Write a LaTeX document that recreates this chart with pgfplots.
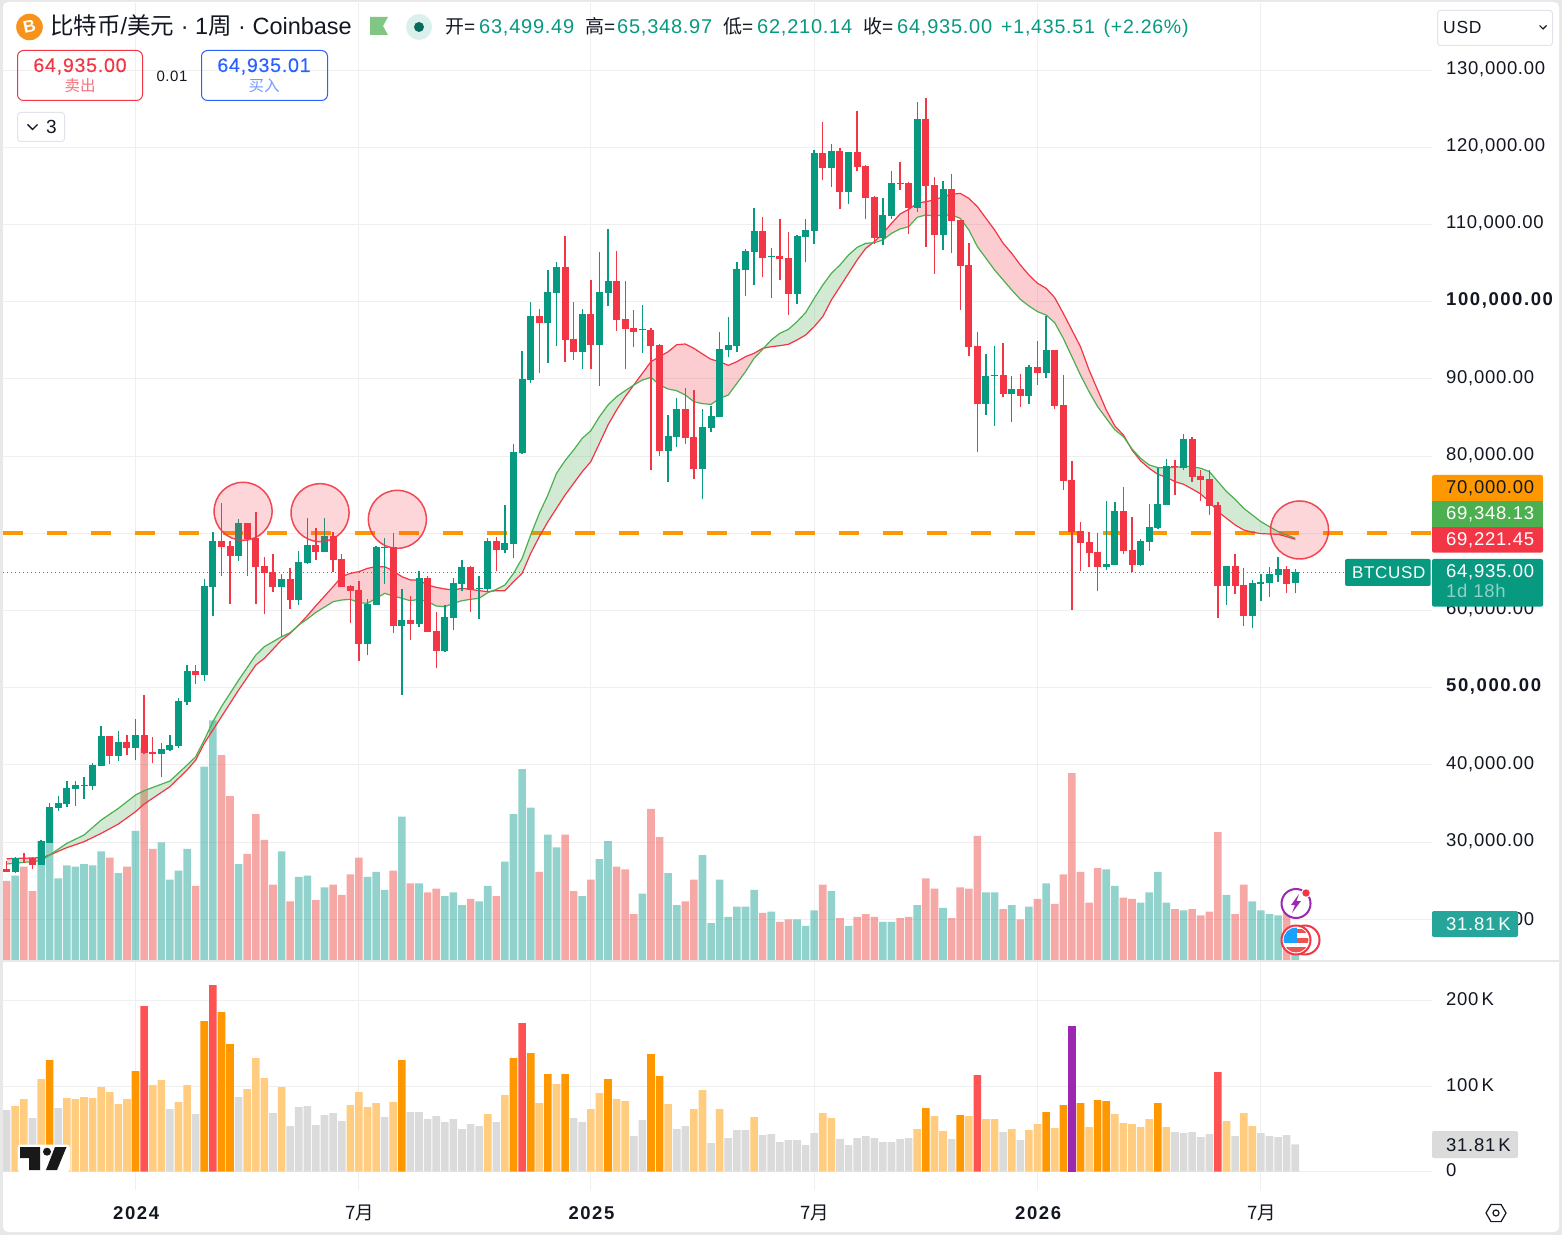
\documentclass[border=0pt]{standalone}
\usepackage{fontspec}
\usepackage{pgfplots}
\usepackage{pgfplotstable}
\pgfplotsset{compat=1.18}
\setmainfont{Liberation Sans}
\newfontfamily\cjk{Noto Sans CJK SC}
\newfontfamily\nf[LetterSpace=3.8]{Liberation Sans}
\newfontfamily\nfb[LetterSpace=8.5]{Liberation Sans}
\newfontfamily\nfm[LetterSpace=3.8,FakeBold=0.3]{Liberation Sans}
\definecolor{up}{HTML}{089981}
\definecolor{dn}{HTML}{F23645}
\definecolor{tealv}{HTML}{26A69A}
\definecolor{redv}{HTML}{EF5350}
\definecolor{gridc}{HTML}{EFEFEF}
\definecolor{inkc}{HTML}{131722}
\definecolor{pagec}{HTML}{E8E8E8}
\definecolor{orng}{HTML}{FF9800}
\definecolor{lorng}{HTML}{FFCC80}
\definecolor{grayv}{HTML}{DBDBDB}
\definecolor{redl}{HTML}{FF5252}
\definecolor{purp}{HTML}{9C27B0}
\definecolor{greenl}{HTML}{4CAF50}
\definecolor{bluec}{HTML}{2962FF}
\definecolor{btc}{HTML}{F7931A}
\definecolor{flagc}{HTML}{81C784}
\definecolor{boxc}{HTML}{E0E3EB}
% weekly candles, prices in thousand USD
\pgfplotstableread{
i o h l c
0 26.5 27.5 26.1 26.1
1 26.1 28.1 26.0 27.9
2 28.0 28.6 27.3 27.8
3 27.9 28.1 26.5 27.0
4 27.0 30.3 27.0 30.1
5 29.9 35.1 29.9 34.5
6 34.4 36.0 34.0 35.1
7 34.9 37.9 34.5 37.0
8 36.9 37.9 34.7 37.4
9 37.3 38.4 35.6 37.4
10 37.3 40.2 36.7 40.0
11 39.9 45.0 39.9 43.7
12 43.7 43.8 40.1 41.2
13 41.2 44.4 40.5 43.0
14 43.0 43.9 41.3 42.2
15 42.2 45.9 40.6 43.9
16 43.9 49.1 41.4 41.5
17 41.7 43.6 40.2 41.4
18 41.4 42.8 38.4 42.1
19 41.9 43.9 41.8 42.6
20 42.4 48.7 42.2 48.3
21 48.1 52.9 47.8 52.2
22 52.2 52.9 50.5 51.6
23 51.6 64.1 50.9 63.2
24 63.0 70.2 59.3 69.0
25 69.0 73.9 64.5 68.2
26 68.4 69.0 60.8 67.1
27 67.1 71.9 66.4 71.3
28 71.3 71.3 64.5 69.2
29 69.4 72.8 60.8 65.6
30 65.8 66.9 59.5 64.9
31 65.0 67.3 62.4 63.0
32 63.0 64.7 56.6 64.1
33 64.1 65.5 60.2 61.4
34 61.4 67.7 60.7 66.3
35 66.1 72.0 66.0 68.5
36 68.5 70.7 66.5 67.6
37 67.6 72.0 67.6 69.7
38 69.7 70.2 65.0 66.5
39 66.7 67.3 63.0 63.0
40 63.2 63.3 58.4 62.5
41 62.7 63.8 53.5 55.7
42 55.7 61.5 54.2 60.8
43 60.7 68.4 60.7 68.2
44 68.1 69.4 63.4 68.2
45 68.2 70.0 57.1 58.0
46 58.0 62.8 49.1 58.8
47 58.8 61.9 56.2 58.2
48 58.2 65.1 57.9 64.2
49 64.2 64.5 57.2 57.2
50 57.3 59.8 52.5 54.8
51 54.8 60.7 54.6 59.2
52 59.0 64.2 57.5 63.6
53 63.4 66.5 62.5 65.6
54 65.6 65.7 59.8 62.7
55 62.8 64.5 58.9 62.9
56 62.8 69.4 62.4 69.0
57 69.0 69.5 65.1 67.8
58 67.8 73.7 67.4 68.7
59 68.6 81.6 66.8 80.5
60 80.4 93.6 80.3 90.0
61 89.9 100.0 89.5 98.1
62 98.1 99.1 90.8 97.2
63 97.2 104.1 92.1 101.3
64 101.1 105.1 94.3 104.5
65 104.5 108.5 92.2 95.0
66 95.2 100.0 92.4 93.5
67 93.5 99.1 91.3 98.4
68 98.4 102.8 91.3 94.4
69 94.4 106.4 89.1 101.3
70 101.1 109.4 99.4 102.7
71 102.7 106.6 96.2 97.6
72 97.8 102.7 91.3 96.5
73 96.6 98.9 94.1 96.1
74 96.3 99.6 93.4 96.5
75 96.3 96.6 78.2 94.3
76 94.4 94.5 80.0 80.7
77 80.7 85.3 76.6 82.6
78 82.5 87.5 81.2 86.1
79 86.1 88.8 81.6 82.3
80 82.5 88.6 77.0 78.3
81 78.3 86.1 74.4 83.8
82 83.6 86.5 83.1 85.2
83 85.1 96.1 85.1 93.9
84 93.7 98.0 92.8 94.4
85 94.3 105.1 93.5 104.2
86 104.1 106.8 100.7 106.6
87 106.4 112.1 102.2 109.2
88 109.2 111.0 103.2 105.7
89 105.8 107.0 100.5 105.9
90 105.9 110.7 102.8 105.5
91 105.7 109.0 98.3 101.0
92 101.0 108.6 99.7 108.5
93 108.4 110.7 105.1 109.3
94 109.2 119.7 107.5 119.3
95 119.3 123.3 115.8 117.3
96 117.3 120.4 114.9 119.5
97 119.5 119.9 112.0 114.2
98 114.2 119.4 112.7 119.4
99 119.4 124.7 116.9 117.5
100 117.6 117.7 110.7 113.4
101 113.6 113.7 107.5 108.3
102 108.3 113.4 107.3 111.2
103 111.1 116.9 110.7 115.4
104 115.4 118.1 114.5 115.2
105 115.4 115.5 108.8 112.1
106 112.1 125.9 111.6 123.7
107 123.7 126.4 107.1 115.0
108 115.1 116.2 103.6 108.6
109 108.6 115.6 106.7 114.6
110 114.6 116.5 106.3 110.5
111 110.6 110.6 98.9 104.6
112 104.8 107.6 93.0 94.1
113 94.3 96.1 80.5 86.8
114 86.8 93.2 85.3 90.4
115 90.4 94.3 83.9 90.5
116 90.5 94.7 87.7 88.0
117 88.0 90.4 84.4 88.7
118 88.7 90.6 86.4 87.8
119 87.8 91.8 86.8 91.5
120 91.5 94.9 89.2 90.8
121 90.8 98.1 90.1 93.7
122 93.7 93.8 86.1 86.5
123 86.6 90.5 75.6 76.8
124 76.9 79.4 60.1 70.2
125 70.3 71.5 65.1 68.7
126 68.9 70.2 65.6 67.4
127 67.6 70.0 62.5 65.6
128 65.6 74.2 65.2 66.0
129 65.9 74.1 65.9 72.9
130 72.9 76.0 67.3 67.7
131 67.8 72.1 65.0 65.9
132 65.9 69.3 65.8 69.0
133 68.9 73.8 67.7 70.8
134 70.7 78.5 70.6 73.8
135 73.7 79.6 73.7 78.7
136 78.7 79.5 75.0 78.6
137 78.5 82.9 78.2 82.2
138 82.2 82.5 76.7 77.3
139 77.4 78.2 74.2 76.9
140 77.0 78.2 72.4 73.5
141 73.7 74.1 59.0 63.2
142 63.2 65.8 60.7 65.8
143 65.8 67.3 62.1 63.2
144 63.3 65.5 58.0 59.3
145 59.3 64.0 57.7 63.6
146 63.4 64.7 61.2 63.7
147 63.6 65.6 61.8 64.7
148 64.6 66.9 63.7 65.4
149 65.4 65.8 62.3 63.4
150 63.50 65.35 62.21 64.94
}\cand
% volume in thousand; d: 1 rising week; lev: relative-volume class
\pgfplotstableread{
i v d lev
0 72.0 0 0
1 76.6 1 1
2 84.8 0 1
3 62.6 0 0
4 108.1 1 1
5 130.3 1 2
6 74.3 1 0
7 86.0 1 1
8 84.8 1 1
9 87.1 1 1
10 86.0 1 1
11 98.8 1 1
12 93.0 0 1
13 79.0 1 1
14 84.8 0 1
15 117.5 1 2
16 193.3 0 3
17 101.1 0 1
18 107.0 1 1
19 73.1 1 0
20 81.3 1 1
21 101.1 1 1
22 67.3 0 0
23 175.8 1 2
24 217.8 1 3
25 186.3 0 2
26 149.0 0 2
27 87.1 1 0
28 96.5 0 1
29 132.6 0 1
30 109.3 0 1
31 68.5 0 0
32 98.8 1 1
33 53.3 0 0
34 75.5 1 0
35 76.6 1 0
36 54.5 0 0
37 66.1 1 0
38 68.5 0 0
39 59.1 0 0
40 77.8 0 1
41 93.0 0 1
42 75.5 1 1
43 80.1 1 1
44 63.8 1 0
45 81.3 0 1
46 130.3 1 2
47 69.6 0 0
48 69.6 1 0
49 61.5 0 0
50 65.0 0 0
51 58.0 1 0
52 61.5 1 0
53 49.8 1 0
54 55.6 0 0
55 53.3 1 0
56 67.3 1 1
57 58.0 0 0
58 89.5 1 1
59 132.6 1 2
60 173.5 1 3
61 138.5 1 2
62 80.1 0 1
63 114.0 1 2
64 102.3 1 1
65 114.0 0 2
66 62.6 0 0
67 58.0 1 0
68 73.1 0 1
69 91.8 1 1
70 108.1 1 2
71 84.8 0 1
72 82.5 0 1
73 41.6 0 0
74 60.3 1 0
75 137.3 0 2
76 111.6 0 2
77 79.0 1 1
78 49.8 1 0
79 53.3 0 0
80 73.1 0 1
81 95.3 1 1
82 33.5 1 0
83 73.1 1 1
84 39.3 1 0
85 48.6 1 0
86 48.6 1 0
87 63.8 1 1
88 42.8 0 0
89 44.0 1 0
90 34.6 0 0
91 37.0 0 0
92 37.0 1 0
93 31.1 1 0
94 45.1 1 0
95 68.5 0 1
96 62.6 1 1
97 38.1 0 0
98 31.1 1 0
99 39.3 0 0
100 41.6 0 0
101 39.3 0 0
102 34.6 1 0
103 34.6 1 0
104 38.1 0 0
105 39.3 0 0
106 49.8 1 1
107 74.3 0 2
108 65.0 0 1
109 47.5 1 1
110 38.1 0 0
111 66.1 0 2
112 65.0 0 1
113 112.8 0 3
114 61.5 1 1
115 61.5 1 1
116 46.3 0 0
117 49.8 1 1
118 37.0 0 0
119 48.6 1 1
120 55.6 0 1
121 69.6 1 2
122 51.0 0 1
123 77.8 0 2
124 170.0 0 4
125 80.1 0 2
126 52.1 0 1
127 83.6 0 2
128 82.5 1 2
129 67.3 1 1
130 56.8 0 1
131 55.6 0 1
132 52.1 1 1
133 61.5 1 1
134 80.1 1 2
135 52.1 1 1
136 46.3 0 0
137 45.1 1 0
138 46.3 0 0
139 40.5 0 0
140 44.0 0 0
141 116.3 0 3
142 59.1 1 1
143 41.6 0 0
144 68.5 0 1
145 53.3 1 1
146 45.1 1 0
147 41.6 1 0
148 40.5 1 0
149 42.8 0 0
150 31.81 1 0
}\volt
% the two moving averages (r: red, g: green), prices in thousand USD
\pgfplotstableread{
i r g
0 27.85 27.16
4 27.98 27.59
5 28.33 28.33
7 29.28 29.84
9 30.05 30.92
11 31.13 32.86
13 32.34 34.37
15 33.94 36.10
16 34.93 36.66
19 37.18 37.91
21 39.34 39.98
22 40.63 41.06
23 42.79 43.22
24 44.52 45.60
25 46.24 47.54
27 49.70 50.99
29 52.94 54.23
30 53.80 55.32
32 56.18 56.61
33 57.04 57.13
34 58.12 58.12
35 59.33 58.90
36 60.63 59.76
38 63.09 61.14
39 64.38 61.36
40 64.81 61.45
41 65.03 61.02
42 65.46 60.93
43 65.68 61.58
44 65.68 62.22
45 65.12 61.88
46 64.38 61.58
47 63.95 61.27
48 63.95 61.45
49 63.30 61.14
50 63.00 60.58
51 62.79 60.50
52 62.66 60.93
53 62.87 61.27
54 62.74 61.45
55 62.57 61.58
56 62.44 62.31
57 62.57 62.74
58 62.57 63.30
59 63.73 64.81
60 64.81 66.75
61 67.40 69.78
62 69.56 72.58
63 71.50 74.96
64 73.23 77.76
65 74.96 79.41
66 76.47 80.79
67 77.98 82.30
68 79.28 83.29
69 81.65 85.10
70 84.03 86.62
71 85.97 87.70
72 87.70 88.47
73 89.21 89.21
74 90.72 89.85
75 92.23 90.20
76 92.88 89.21
77 93.52 88.69
78 94.43 88.47
79 94.52 87.91
80 93.96 87.05
81 93.22 86.79
82 92.53 86.70
83 92.23 87.48
84 91.75 87.91
85 92.23 89.42
86 92.88 90.93
87 93.31 92.66
88 93.96 93.83
89 94.17 95.04
90 94.30 95.90
91 94.48 96.42
92 95.04 97.41
93 95.68 98.58
94 96.76 100.43
95 98.06 102.16
96 100.22 103.67
97 101.94 104.75
98 103.67 106.05
99 105.40 107.04
100 106.91 107.56
101 107.77 107.64
102 108.85 107.99
103 110.15 108.85
104 111.36 109.42
105 111.96 109.72
106 112.74 110.93
107 112.96 111.23
108 113.17 111.10
109 113.60 111.23
110 113.91 111.23
111 114.03 110.80
112 113.39 109.29
113 112.31 107.13
114 110.80 105.62
115 109.29 104.10
116 107.56 102.81
117 106.26 101.51
118 104.75 100.30
119 103.45 99.44
120 102.38 98.71
121 101.73 98.27
122 100.52 97.28
123 98.49 95.25
124 96.33 92.88
125 94.17 90.50
126 91.15 88.34
127 88.56 86.40
128 85.97 84.89
129 83.90 83.40
130 82.74 82.52
131 80.79 80.92
132 79.37 79.71
133 78.42 78.85
134 77.64 78.51
135 77.25 78.46
136 76.69 78.55
137 76.35 78.64
138 75.74 78.64
139 75.09 78.42
140 74.10 77.99
141 72.81 76.69
142 71.94 75.40
143 71.08 74.40
144 70.43 73.24
145 70.13 72.37
146 69.96 71.51
147 69.91 70.86
148 69.87 70.22
149 69.57 69.78
150 69.22 69.35
}\band
\pgfplotsset{
 pane/.style={scale only axis,xmin=-0.43,xmax=165.92,anchor=south west,
   axis line style={draw=none},tick style={draw=none},major tick length=0pt},
 upper/.style={pane,at={(3pt,275pt)},width=1429pt,height=957pt},
 lab/.style={anchor=west,inner sep=0pt,text height=13.3pt,text depth=0pt,text=inkc,
   font=\nf\fontsize{18.5}{18.5}\selectfont},
}
\newcommand{\candles}[2]{%
 \addplot[draw=none,mark=none,forget plot,restrict expr to domain={\thisrow{c}-\thisrow{o}}{#2},
   error bars/.cd,y dir=plus,y explicit,error mark=none,error bar style={line width=1.4pt,draw=#1}]
   table[x=i,y=l,y error plus expr=\thisrow{h}-\thisrow{l}]{\cand};
 \addplot[draw=none,mark=none,forget plot,restrict expr to domain={\thisrow{c}-\thisrow{o}}{#2},
   error bars/.cd,y dir=plus,y explicit,error mark=none,error bar style={line width=7pt,draw=#1}]
   table[x=i,y expr={min(\thisrow{o},\thisrow{c})},y error plus expr={abs(\thisrow{c}-\thisrow{o})}]{\cand};
}
\newcommand{\vbars}[3]{% colour, opacity, filter
 \addplot[ybar,bar shift=0pt,bar width=7.6pt,draw=none,fill=#1,fill opacity=#2,forget plot,#3] table[x=i,y=v]{\volt};
}
\newcommand{\T}[5][base west]{\node[anchor=#1,inner sep=0pt,text=#3,font=\fontsize{#4}{#4}\selectfont] at (#2) {#5};}
\newcommand{\bnum}[1]{{\nfb\bfseries #1}}
\begin{document}
\begin{tikzpicture}
\path (0,0) rectangle (1562pt,1235pt);
\fill[pagec] (0,0) rectangle (1562pt,1235pt);
\fill[white,rounded corners=5pt] (3pt,3pt) rectangle (1559pt,1233pt);
% price grid, labels and the two horizontal lines
\begin{axis}[upper,ymin=14.73,ymax=138.69,ytick={20,30,40,50,60,70,80,90,100,110,120,130},
  yticklabels={{\raisebox{-2pt}{20,000.00}},{30,000.00},{40,000.00},{\bnum{50,000.00}},{60,000.00},{70,000.00},{80,000.00},{90,000.00},{\bnum{100,000.00}},{110,000.00},{120,000.00},{130,000.00}},
  xtick={15,41,68,94,120,146},xticklabels={},grid=major,grid style={draw=gridc,line width=1pt},
  yticklabel pos=right,yticklabel style={lab,xshift=14pt,yshift=2.5pt}]
 \addplot[orng,line width=4pt,dash pattern=on 20pt off 24pt,forget plot] coordinates {(-0.43,70)(165.92,70)};
 \addplot[up,line width=1pt,dash pattern=on 1pt off 3pt,forget plot] coordinates {(-0.43,64.935)(155.9,64.935)};
\end{axis}
% volume in the price pane
\begin{axis}[upper,hide axis,ymin=0,ymax=870]
 \vbars{tealv}{0.5}{restrict expr to domain={\thisrow{d}}{1:1}}
 \vbars{redv}{0.5}{restrict expr to domain={\thisrow{d}}{0:0}}
\end{axis}
% band between the averages: a stack of the lower line and the two gaps
\begin{axis}[upper,hide axis,ymin=14.73,ymax=138.69,stack plots=y]
 \addplot[draw=none,forget plot] table[x=i,y expr={min(\thisrow{r},\thisrow{g})}]{\band};
 \addplot[draw=none,fill=dn,fill opacity=.25,forget plot] table[x=i,y expr={max(\thisrow{r}-\thisrow{g},0)}]{\band} \closedcycle;
 \addplot[draw=none,fill=greenl,fill opacity=.25,forget plot] table[x=i,y expr={max(\thisrow{g}-\thisrow{r},0)}]{\band} \closedcycle;
\end{axis}
% price
\begin{axis}[upper,hide axis,ymin=14.73,ymax=138.69]
 \addplot[dn,line width=1.2pt,forget plot] table[x=i,y=r]{\band};
 \addplot[greenl,line width=1.2pt,forget plot] table[x=i,y=g]{\band};
 \candles{up}{0:1000}
 \candles{dn}{-1000:-0.0001}
 \addplot[only marks,forget plot,mark=*,mark size=29pt,mark options={draw=dn,line width=1.5pt,fill=dn,fill opacity=.2,draw opacity=.9}]
   coordinates {(27.52,72.85)(36.48,72.67)(45.48,71.81)(150.5,70.43)};
\end{axis}
% relative-volume pane
\begin{axis}[pane,at={(3pt,45pt)},width=1429pt,height=228pt,ymin=-21.35,ymax=244.7,
  ytick={0,100,200},
  yticklabels={{0},{100\,K},{200\,K}},
  xtick={15,41,68,94,120,146},
  xticklabels={\bnum{2024},{\cjk 7月},\bnum{2025},{\cjk 7月},\bnum{2026},{\cjk 7月}},
  grid=major,grid style={draw=gridc,line width=1pt},
  yticklabel pos=right,yticklabel style={lab,xshift=14pt,yshift=1.5pt},
  xticklabel style={anchor=center,inner sep=0pt,xshift=0.6pt,yshift=-23pt,text=inkc,font=\nf\fontsize{18.5}{18.5}\selectfont}]
 \vbars{grayv}{1}{restrict expr to domain={\thisrow{lev}}{0:0}}
 \vbars{lorng}{1}{restrict expr to domain={\thisrow{lev}}{1:1}}
 \vbars{orng}{1}{restrict expr to domain={\thisrow{lev}}{2:2}}
 \vbars{redl}{1}{restrict expr to domain={\thisrow{lev}}{3:3}}
 \vbars{purp}{1}{restrict expr to domain={\thisrow{lev}}{4:4}}
\end{axis}
% interface furniture, drawn in the reference's pixel coordinates
\begin{scope}[x=1pt,y=-1pt,yshift=1235pt]
 \fill[pagec] (3,960) rectangle (1559,962);
 % header
 \fill[btc] (29.5,27) circle[radius=13.3pt];
 \node[text=white,rotate=12,inner sep=0pt,font=\bfseries\fontsize{17}{17}\selectfont] at (29.5,27) {B};
 \T{50,35}{inkc}{23.5}{{\cjk 比特币}/{\cjk 美元} · 1{\cjk 周} · Coinbase}
 \fill[flagc] (370,17)--(388,17)--(383,26)--(388,35)--(370,35)--cycle;
 \fill[up!15] (419,27) circle[radius=13pt];
 \fill[up!70!black] (419,27) circle[radius=5pt];
 \T{445,34}{inkc}{19}{{\cjk 开}=}
 \T{479,34}{up}{20}{\nf 63,499.49}
 \T{585,34}{inkc}{19}{{\cjk 高}=}
 \T{617,34}{up}{20}{\nf 65,348.97}
 \T{723,34}{inkc}{19}{{\cjk 低}=}
 \T{757,34}{up}{20}{\nf 62,210.14}
 \T{863,34}{inkc}{19}{{\cjk 收}=}
 \T{897,34}{up}{20}{\nf 64,935.00}
 \T{1001,34}{up}{19.6}{\nf +1,435.51}
 \T{1103.5,34}{up}{19.5}{\nf (+2.26\%)}
 % buy and sell
 \draw[dn,line width=1pt,rounded corners=6pt] (17.5,50.5) rectangle (142.5,100.5);
 \draw[bluec,line width=1pt,rounded corners=6pt] (201.5,50.5) rectangle (327.5,100.5);
 \T[base]{80,72}{dn}{19.6}{\nfm 64,935.00}
 \T[base]{80,92}{dn!70}{15.5}{\cjk 卖出}
 \T[base]{264,72}{bluec}{19.6}{\nfm 64,935.01}
 \T[base]{264,92}{bluec!65}{15.5}{\cjk 买入}
 \T[base]{172,81.5}{inkc}{15}{\nf 0.01}
 \draw[boxc,line width=1pt,rounded corners=3pt] (17.5,112.5) rectangle (64.5,141.5);
 \draw[inkc,line width=1.4pt] (27.5,124.5)--(32.5,129.5)--(37.5,124.5);
 \T{46,134}{inkc}{19}{\nf 3}
 % currency selector
 \draw[boxc,line width=1pt,rounded corners=3pt] (1437.5,10.5) rectangle (1552.5,45.5);
 \T{1443,33.5}{inkc}{17.5}{\nf USD}
 \draw[inkc,line width=1.1pt] (1539.5,25.5)--(1543,29)--(1546.5,25.5);
 % price tags
 \fill[orng,rounded corners=2pt] (1432,475) rectangle (1543,503);
 \fill[greenl] (1432,501) rectangle (1543,527.3);
 \fill[dn,rounded corners=2pt] (1432,527.3) rectangle (1543,552.7);
 \fill[dn] (1432,527.3) rectangle (1543,535);
 \T{1446,494}{inkc}{18.5}{\nf 70,000.00}
 \T{1446,520}{white}{18.5}{\nf 69,348.13}
 \T{1446,545.5}{white}{18.5}{\nf 69,221.45}
 \fill[up,rounded corners=2pt] (1345,559) rectangle (1430.7,586);
 \T{1352,579}{white}{17}{\nf BTCUSD}
 \fill[up,rounded corners=2pt] (1432,559) rectangle (1543,606.7);
 \T{1446,577.5}{white}{18.5}{\nf 64,935.00}
 \T{1446,598}{white!55!up}{18.5}{\nf 1d 18h}
 \fill[tealv,rounded corners=2pt] (1432,911) rectangle (1518,937);
 \T{1446,930.5}{white}{18.5}{\nf 31.81\,K}
 \fill[grayv,rounded corners=2pt] (1432,1131) rectangle (1518,1158);
 \T{1446,1151}{inkc}{18.5}{\nf 31.81\,K}
 % event icons
 \draw[purp,line width=2pt,fill=white] (1296,903.5) circle[radius=14.5pt];
 \fill[purp] (1299,894)--(1291,905)--(1295,905)--(1292,913)--(1301,901)--(1296.5,901)--cycle;
 \fill[white] (1306,893) circle[radius=5pt];
 \fill[dn] (1306,893) circle[radius=3.7pt];
 \draw[dn,line width=2pt,fill=white] (1305,940) circle[radius=14.5pt];
 \draw[dn,line width=2pt,fill=white] (1296,940) circle[radius=14.5pt];
 \begin{scope}
  \clip (1296,940) circle[radius=12.5pt];
  \fill[redv] (1284,947) rectangle (1310,952.5);
  \fill[redv] (1297,938) rectangle (1310,942.7);
  \fill[redv] (1297,929) rectangle (1310,933);
  \fill[bluec!60!cyan] (1283,927) rectangle (1297.4,942.7);
 \end{scope}
 % logo
 \fill[white,rounded corners=3pt] (17.5,1144.5) rectangle (70,1172);
 \fill[black!90] (20,1147)--(40,1147)--(40,1170)--(29,1170)--(29,1158)--(20,1158)--cycle;
 \fill[black!90] (47,1151.7) circle[radius=4pt];
 \fill[black!90] (55,1147)--(66.5,1147)--(57,1170)--(46,1170)--cycle;
 % settings
 \draw[inkc,line width=1.2pt] (1506,1213)--(1501,1204.4)--(1491,1204.4)--(1486,1213)--(1491,1221.6)--(1501,1221.6)--cycle;
 \draw[inkc,line width=1.2pt] (1496,1213) circle[radius=3pt];
\end{scope}
\end{tikzpicture}
\end{document}
